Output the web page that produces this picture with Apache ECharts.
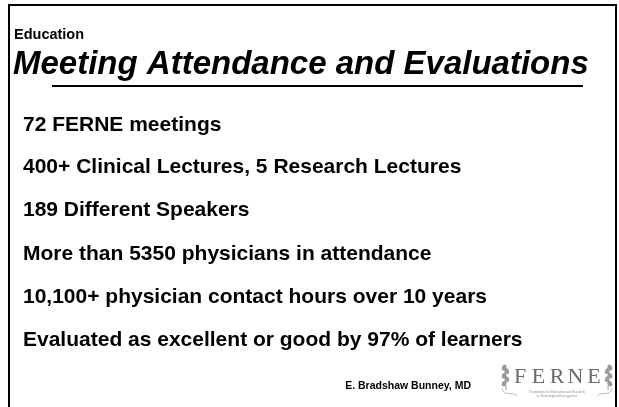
<!DOCTYPE html>
<html><head><meta charset="utf-8">
<script src="https://cdn.jsdelivr.net/npm/echarts@6/dist/echarts.min.js"></script>
<style>html,body{margin:0;padding:0;background:#fff}#c{width:619px;height:407px}</style>
</head><body><div id="c"></div>
<script>
const sectionLabel = "Education";
const titleText = "Meeting Attendance and Evaluations";
const bulletLines = [
  "72 FERNE meetings",
  "400+ Clinical Lectures, 5 Research Lectures",
  "189 Different Speakers",
  "More than 5350 physicians in attendance",
  "10,100+ physician contact hours over 10 years",
  "Evaluated as excellent or good by 97% of learners"
];
const footerText = "E. Bradshaw Bunney, MD";
const logoText = "FERNE";
const logoSub = ["Foundation for Education and Research", "in Neurological Emergencies"];

const chart = echarts.init(document.getElementById('c'), null, {renderer: 'canvas'});
const F = '"Liberation Sans", Arial, sans-serif';
const SERIF = '"Liberation Serif", "DejaVu Serif", serif';
const lineMid = [125, 167.5, 210.5, 254, 297, 340];
const g = [];
// frame
g.push({type:'line', shape:{x1:9,y1:5,x2:9,y2:407}, style:{stroke:'#000',lineWidth:2}});
g.push({type:'line', shape:{x1:8,y1:5,x2:617,y2:5}, style:{stroke:'#000',lineWidth:2}});
g.push({type:'line', shape:{x1:616,y1:5,x2:616,y2:407}, style:{stroke:'#000',lineWidth:2}});
// underline
g.push({type:'line', shape:{x1:52,y1:86,x2:583,y2:86}, style:{stroke:'#000',lineWidth:2}});
g.push({type:'text', x:14, y:35, style:{text:sectionLabel, font:'bold 14.5px '+F, fill:'#000', textVerticalAlign:'middle'}});
g.push({type:'text', x:13, y:64.5, style:{text:titleText, font:'italic bold 33px '+F, fill:'#000', textVerticalAlign:'middle'}});
bulletLines.forEach((t,i)=>{
  g.push({type:'text', x:23, y:lineMid[i], style:{text:t, font:'bold 21px '+F, fill:'#000', textVerticalAlign:'middle'}});
});
g.push({type:'text', x:471, y:386, style:{text:footerText, font:'bold 10.5px '+F, fill:'#000', textAlign:'right', textVerticalAlign:'middle'}});
// logo letters, spread out
logoText.split('').forEach((ch,i)=>{
  g.push({type:'text', x:520 + i*18.5, y:377, style:{text:ch, font:'22px '+SERIF, fill:'#6a6a6a', textAlign:'center', textVerticalAlign:'middle'}});
});
// leaf sprigs
function sprig(cx, flip){
  const s = flip ? -1 : 1;
  for (let k=0;k<5;k++){
    g.push({type:'ellipse', shape:{cx:cx + s*(k%2?2:-1), cy:368 + k*4, rx:2.2, ry:3.2}, rotation: s*0.5*(k%2?1:-1), originX:cx, originY:368+k*4, style:{fill:'#9a9a9a'}});
  }
  g.push({type:'line', shape:{x1:cx, y1:366, x2:cx + s*1, y2:390}, style:{stroke:'#9a9a9a', lineWidth:1}});
  g.push({type:'bezierCurve', shape:{x1:cx-3*s, y1:388, x2:cx+12*s, y2:396, cpx1:cx, cpy1:398, cpx2:cx+6*s, cpy2:390}, style:{stroke:'#aaa', lineWidth:0.8, fill:null}});
}
sprig(505, false);
sprig(609, true);
g.push({type:'text', x:557, y:392, style:{text:logoSub[0], font:'3.5px '+SERIF, fill:'#888', textAlign:'center', textVerticalAlign:'middle'}});
g.push({type:'text', x:557, y:396.5, style:{text:logoSub[1], font:'3.5px '+SERIF, fill:'#888', textAlign:'center', textVerticalAlign:'middle'}});
chart.setOption({animation:false, backgroundColor:'#fff', graphic:g});
</script></body></html>
